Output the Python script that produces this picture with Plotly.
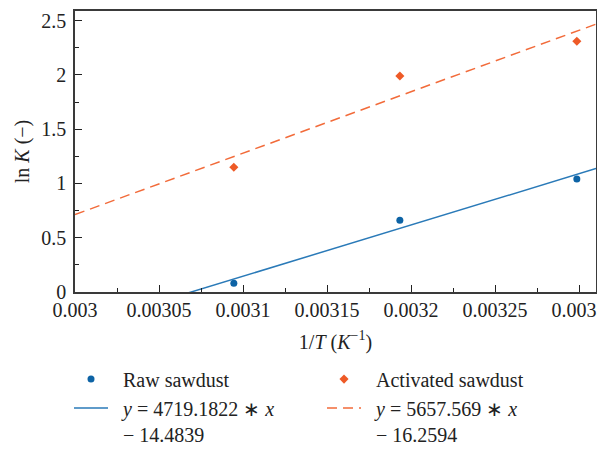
import plotly.graph_objects as go

# ---- data ----
inv_T = [1 / 323.15, 1 / 313.15, 1 / 303.15]          # 1/T (K^-1)
raw_lnK = [0.08, 0.66, 1.04]
act_lnK = [1.15, 1.99, 2.31]

raw_slope, raw_intercept = 4719.1822, -14.4839
act_slope, act_intercept = 5657.569, -16.2594

x_range = [0.003, 0.0033101]
y_range = [0, 2.589]

x_tickvals = [0.003, 0.00305, 0.0031, 0.00315, 0.0032, 0.00325, 0.0033]
x_ticktext = ["0.003", "0.00305", "0.0031", "0.00315", "0.0032", "0.00325", "0.0033"]
y_tickvals = [0, 0.5, 1, 1.5, 2, 2.5]
y_ticktext = ["0", "0.5", "1", "1.5", "2", "2.5"]

SP = "\u2002"  # spacer between legend symbol and text
raw_name = SP + "Raw sawdust"
act_name = SP + "Activated sawdust"
raw_fit_name = SP + "<i>y</i> = 4719.1822 ∗ <i>x</i><br>" + SP + "− 14.4839"
act_fit_name = SP + "<i>y</i> = 5657.569 ∗ <i>x</i><br>" + SP + "− 16.2594"

BLUE_M, BLUE_L = "#0d63a5", "#2a7ab8"
ORANGE_M, ORANGE_L = "#ee5a27", "#f26b3a"
FONT = "Liberation Serif"

fit_x = x_range
raw_fit_y = [raw_slope * v + raw_intercept for v in fit_x]
act_fit_y = [act_slope * v + act_intercept for v in fit_x]

fig = go.Figure()
fig.add_trace(go.Scatter(x=inv_T, y=raw_lnK, mode="markers", name=raw_name,
                         marker=dict(color=BLUE_M, size=7, symbol="circle")))
fig.add_trace(go.Scatter(x=inv_T, y=act_lnK, mode="markers", name=act_name,
                         marker=dict(color=ORANGE_M, size=7, symbol="diamond")))
fig.add_trace(go.Scatter(x=fit_x, y=raw_fit_y, mode="lines", name=raw_fit_name,
                         line=dict(color=BLUE_L, width=1.5)))
fig.add_trace(go.Scatter(x=fit_x, y=act_fit_y, mode="lines", name=act_fit_name,
                         line=dict(color=ORANGE_L, width=1.5, dash="10px,6px")))

axis_common = dict(showgrid=False, zeroline=False, showline=True, linecolor="#3a3a3a",
                   linewidth=1.5, mirror=True, ticks="inside", ticklen=7,
                   tickcolor="#222", tickwidth=1.2, automargin=False,
                   ticklabeloverflow="allow",
                   tickfont=dict(family=FONT, size=20, color="#222"))

fig.update_xaxes(range=x_range, tickvals=x_tickvals, ticktext=x_ticktext,
                 minor=dict(ticks="inside", ticklen=4, dtick=0.000025,
                            tick0=0.003, tickcolor="#222"),
                 ticklabelstandoff=-1,
                 title=dict(text="1/<i>T</i> (<i>K</i><sup>−1</sup>)",
                            font=dict(family=FONT, size=20, color="#222")),
                 **axis_common)
fig.update_yaxes(range=y_range, tickvals=y_tickvals, ticktext=y_ticktext,
                 minor=dict(ticks="inside", ticklen=4, dtick=0.25, tick0=0,
                            tickcolor="#222"),
                 ticklabelstandoff=3,
                 title=dict(text="ln <i>K</i> (−)", standoff=6,
                            font=dict(family=FONT, size=20, color="#222")),
                 **axis_common)

# page body adds an 8px offset; margins compensate so the plot sits where the reference has it
fig.update_layout(
    width=605, height=449,
    margin=dict(l=67, r=17, t=3, b=165, autoexpand=False),
    paper_bgcolor="white", plot_bgcolor="white",
    font=dict(family=FONT, size=20, color="#222"),
    legend=dict(orientation="h", x=-0.0115, xanchor="left", y=-0.2405, yanchor="top",
                entrywidth=204, itemwidth=34, valign="top", traceorder="normal",
                font=dict(family=FONT, size=20, color="#222"),
                bgcolor="rgba(0,0,0,0)"),
)

fig.write_html("out.html")
